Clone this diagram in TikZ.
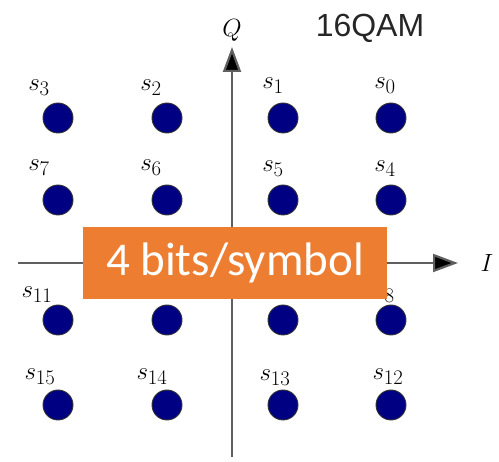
\documentclass[tikz,border=0pt]{standalone}
\usepackage{fontspec}
\usepackage{amsmath}
\usetikzlibrary{arrows.meta}
\newfontfamily\boxfont{Carlito}
\newfontfamily\titlefont{Liberation Sans}
\definecolor{dotblue}{RGB}{0,0,130}
\definecolor{banner}{RGB}{237,125,49}
\definecolor{axisgray}{RGB}{95,95,95}
\begin{document}
\begin{tikzpicture}[x=1pt,y=-1pt,
  symdot/.style={circle,fill=dotblue,draw=black!80,line width=0.9pt,minimum size=30pt,inner sep=0pt},
  symlabel/.style={inner sep=0pt,font=\fontsize{30}{34}\selectfont},
  axisline/.style={draw=axisgray,line width=2.2pt},
  axishead/.style={-{Triangle[length=25pt,width=18pt,fill=black]}}]
\useasboundingbox (0,0) rectangle (499,462);
\fill[white] (0,0) rectangle (499,462);

% axes
\coordinate (qbot) at (232,457);
\coordinate (qtop) at (232,47);
\coordinate (ileft) at (18,263);
\coordinate (iright) at (458,263);
\draw[axisline,axishead] (qbot) -- (qtop);
\draw[axisline,axishead] (ileft) -- (iright);
\node[symlabel] (qlab) at (232,30) {$Q$};
\node[symlabel] (ilab) at (487,263) {$I$};
\node[font=\titlefont\fontsize{32}{36}\selectfont,inner sep=0pt,text=black!85] (title) at (370,28) {16QAM};

% constellation points
\foreach \n/\x/\y in {0/391/118,1/283/118,2/167/118,3/58/118,
                      4/391/200,5/283/200,6/167/200,7/58/200,
                      8/391/320,9/283/320,10/167/320,11/58/320,
                      12/391/405,13/283/405,14/167/405,15/58/405}
  \node[symdot] (p\n) at (\x,\y) {};

% point labels (s_9 and s_10 lie under the banner)
\foreach \n/\x/\y in {3/39/88,2/151/88,1/273/86,0/385/86,
                      7/39/168,6/151/168,5/273/169,4/385/169,
                      11/37/295,8/384/295,
                      15/40/377,14/152/377,13/275/378,12/388/377}
  \node[symlabel] (l\n) at (\x,\y) {$s_{\n}$};

% banner
\node[fill=banner,text=white,minimum width=304pt,minimum height=72pt,inner sep=0pt,
      font=\boxfont\fontsize{47}{51}\selectfont] (bits) at (235,263) {4 bits/symbol};
\end{tikzpicture}
\end{document}
